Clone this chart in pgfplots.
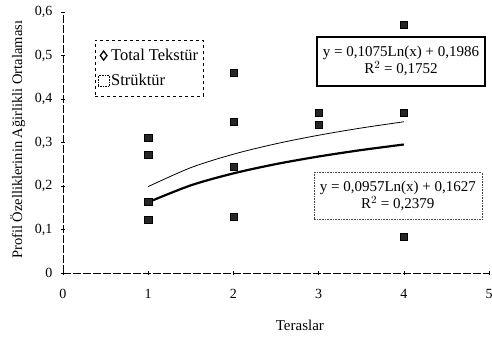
\documentclass[border=0pt]{standalone}
\usepackage{pgfplots}
\pgfplotsset{compat=1.18}
\usepackage{fontspec}
\setmainfont{Liberation Serif}
\begin{document}
\begin{tikzpicture}[x=1pt,y=1pt]
\useasboundingbox (0,0) rectangle (492,342);
\begin{axis}[
  at={(63pt,69pt)}, anchor=origin,
  scale only axis, width=426pt, height=261pt,
  xmin=0, xmax=5, ymin=0, ymax=0.6,
  axis lines=left, axis line style={-, black, line width=0.6pt, dash pattern=on 8pt off 2pt},
  xtick={0,1,2,3,4,5}, ytick={0,0.1,0.2,0.3,0.4,0.5,0.6},
  tick align=center, major tick length=4pt,
  tick style={black, line width=0.5pt},
  /pgf/number format/assume math mode=true,
  /pgf/number format/use comma,
  yticklabel style={/pgf/number format/fixed, /pgf/number format/precision=1, font=\fontsize{14}{14}\selectfont, xshift=-5pt},
  xticklabel style={font=\fontsize{14}{14}\selectfont, yshift=-11pt},
  xlabel={Teraslar}, ylabel={Profil Özelliklerinin Ağirlikli Ortalaması},
  xlabel style={font=\fontsize{15}{15}\selectfont, at={(axis description cs:0.556,-0.2)}, anchor=center},
  ylabel style={font=\fontsize{14.5}{15}\selectfont, at={(axis description cs:-0.106,0.51)}, anchor=center},
  legend style={at={(axis description cs:0.075,0.893)}, anchor=north west, draw=black, dashed, line width=0.4pt,
     font=\fontsize{16.5}{16.5}\selectfont, inner xsep=3pt, inner ysep=7pt, row sep=8pt, cells={anchor=west}},
  legend cell align=left,
  clip=false,
]
\addlegendimage{only marks, mark=diamond, mark size=4.5pt, mark options={solid, black, line width=1.3pt}}
\addlegendentry{Total Tekstür}
\addlegendimage{only marks, mark=square, mark size=5.5pt, mark options={densely dotted, black, line width=0.6pt}}
\addlegendentry{Strüktür}
% data points
\addplot[only marks, mark=square*, mark size=3.6pt, mark options={solid, fill=black!85, draw=black}, forget plot] coordinates {
 (1,0.311) (1,0.272) (1,0.163) (1,0.122)
 (2,0.460) (2,0.347) (2,0.245) (2,0.129)
 (3,0.368) (3,0.340)
 (4,0.570) (4,0.368) (4,0.083)
};
% log trend lines
\addplot[black, line width=0.8pt, smooth, forget plot] coordinates {
 (1,0.1986) (1.5,0.2422) (2,0.2731) (2.5,0.2971) (3,0.3167) (3.5,0.3333) (4,0.3476)
};
\addplot[black, line width=2.2pt, smooth, forget plot] coordinates {
 (1,0.1627) (1.5,0.2015) (2,0.2290) (2.5,0.2504) (3,0.2678) (3.5,0.2826) (4,0.2954)
};
\node[draw=black, line width=2pt, inner xsep=2pt, inner ysep=3pt, align=center, font=\fontsize{15}{17}\selectfont, minimum width=168pt, minimum height=49pt]
  at (axis cs:3.967,0.487) {y = 0,1075Ln(x) + 0,1986\\R$^{2}$ = 0,1752};
\node[draw=black!70, densely dotted, line width=0.6pt, inner xsep=2pt, inner ysep=3pt, align=center, font=\fontsize{15}{17}\selectfont, minimum width=168pt, minimum height=47pt]
  at (axis cs:3.93,0.177) {y = 0,0957Ln(x) + 0,1627\\R$^{2}$ = 0,2379};
\end{axis}
\end{tikzpicture}
\end{document}
